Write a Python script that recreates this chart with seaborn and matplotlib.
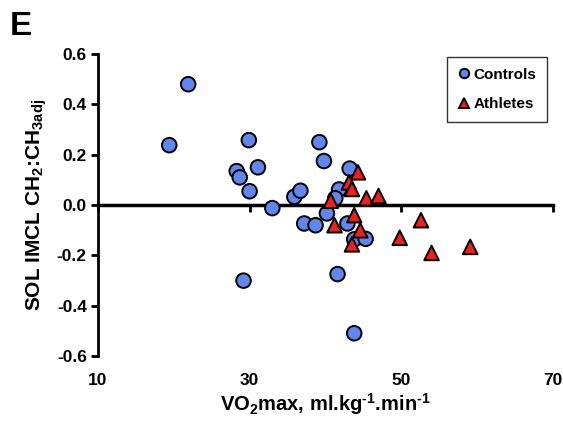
import pandas as pd
import seaborn as sns
import matplotlib.pyplot as plt

# values
controls_vo2 = [21.9, 19.4, 29.9, 39.2, 39.8, 28.3, 28.7, 31.1, 30.0, 33.0, 35.9, 36.7,
                43.2, 41.8, 41.3, 40.2, 37.2, 38.7, 42.9, 43.8, 45.3, 29.2, 41.6, 43.8]
controls_imcl = [0.48, 0.238, 0.258, 0.25, 0.175, 0.135, 0.11, 0.15, 0.055, -0.012, 0.033, 0.057,
                 0.145, 0.062, 0.027, -0.033, -0.073, -0.08, -0.073, -0.136, -0.134, -0.30, -0.274, -0.509]
athletes_vo2 = [44.3, 43.1, 43.5, 40.7, 45.4, 47.0, 43.8, 41.2, 44.6, 43.5, 52.6, 49.8, 54.0, 59.1]
athletes_imcl = [0.13, 0.09, 0.064, 0.017, 0.027, 0.036, -0.04, -0.08, -0.10, -0.156, -0.06, -0.13, -0.19, -0.166]

x_ticks = [10, 30, 50, 70]
y_ticks = [-0.6, -0.4, -0.2, 0.0, 0.2, 0.4, 0.6]

df = pd.concat([
    pd.DataFrame({'VO2max': controls_vo2, 'IMCL': controls_imcl, 'Group': 'Controls'}),
    pd.DataFrame({'VO2max': athletes_vo2, 'IMCL': athletes_imcl, 'Group': 'Athletes'}),
], ignore_index=True)

sns.set_style('white')
plt.rcParams['font.family'] = ['Liberation Sans', 'DejaVu Sans']
plt.rcParams['font.weight'] = 'bold'
plt.rcParams['text.color'] = 'black'
plt.rcParams['axes.labelcolor'] = 'black'
plt.rcParams['xtick.color'] = 'black'
plt.rcParams['ytick.color'] = 'black'
plt.rcParams['axes.edgecolor'] = 'black'
plt.rcParams['mathtext.fontset'] = 'custom'
plt.rcParams['mathtext.rm'] = 'Liberation Sans:bold'
plt.rcParams['mathtext.bf'] = 'Liberation Sans:bold'
plt.rcParams['mathtext.default'] = 'bf'

fig = plt.figure(figsize=(5.63, 4.22), dpi=100)
ax = fig.add_axes([0.174, 0.156, 0.808, 0.716])

sns.scatterplot(data=df, x='VO2max', y='IMCL', hue='Group', style='Group',
                palette={'Controls': '#6186EE', 'Athletes': '#EE1F1F'},
                markers={'Controls': 'o', 'Athletes': '^'},
                s=110, edgecolor='black', linewidth=1.4, ax=ax, zorder=3)

ax.set_xlim(10, 70)
ax.set_ylim(-0.6, 0.6)
ax.set_yticks(y_ticks)
ax.set_yticklabels([f'{v:.1f}' for v in y_ticks], fontsize=12.5, fontweight='bold')
ax.set_xticks(x_ticks)

# x axis line sits at zero, labels stay at the bottom
for side in ['top', 'right']:
    ax.spines[side].set_visible(False)
ax.spines['bottom'].set_position(('data', 0))
ax.spines['bottom'].set_linewidth(2.5)
ax.spines['left'].set_linewidth(2)
ax.tick_params(axis='x', bottom=True, direction='out', length=5, width=2, labelbottom=False)
ax.tick_params(axis='y', left=True, direction='out', length=5, width=2, pad=3)

sec = ax.secondary_xaxis(0)
sec.set_xticks(x_ticks)
sec.set_xticklabels([str(v) for v in x_ticks], fontsize=12.5, fontweight='bold')
sec.spines['bottom'].set_visible(False)
sec.tick_params(bottom=True, length=0, pad=12)

ax.set_xlabel('')
ax.set_ylabel('SOL IMCL CH$_2$:CH$_{3adj}$', fontsize=15, fontweight='bold', labelpad=6)
sec.set_xlabel('VO$_2$max, ml.kg$^{\\text{-}1}$.min$^{\\text{-}1}$', fontsize=14.5,
               fontweight='bold', labelpad=2)

leg = ax.legend(loc='upper right', bbox_to_anchor=(0.987, 0.99), borderaxespad=0,
                frameon=True, fancybox=False, edgecolor='black',
                prop={'weight': 'bold', 'size': 11}, markerscale=0.65,
                labelspacing=1.0, handletextpad=0.15, handlelength=0.9, borderpad=0.7)
leg.get_frame().set_linewidth(1)

fig.text(0.018, 0.975, 'E', fontsize=24, fontweight='bold', va='top')

fig.savefig('out.png', dpi=100)
